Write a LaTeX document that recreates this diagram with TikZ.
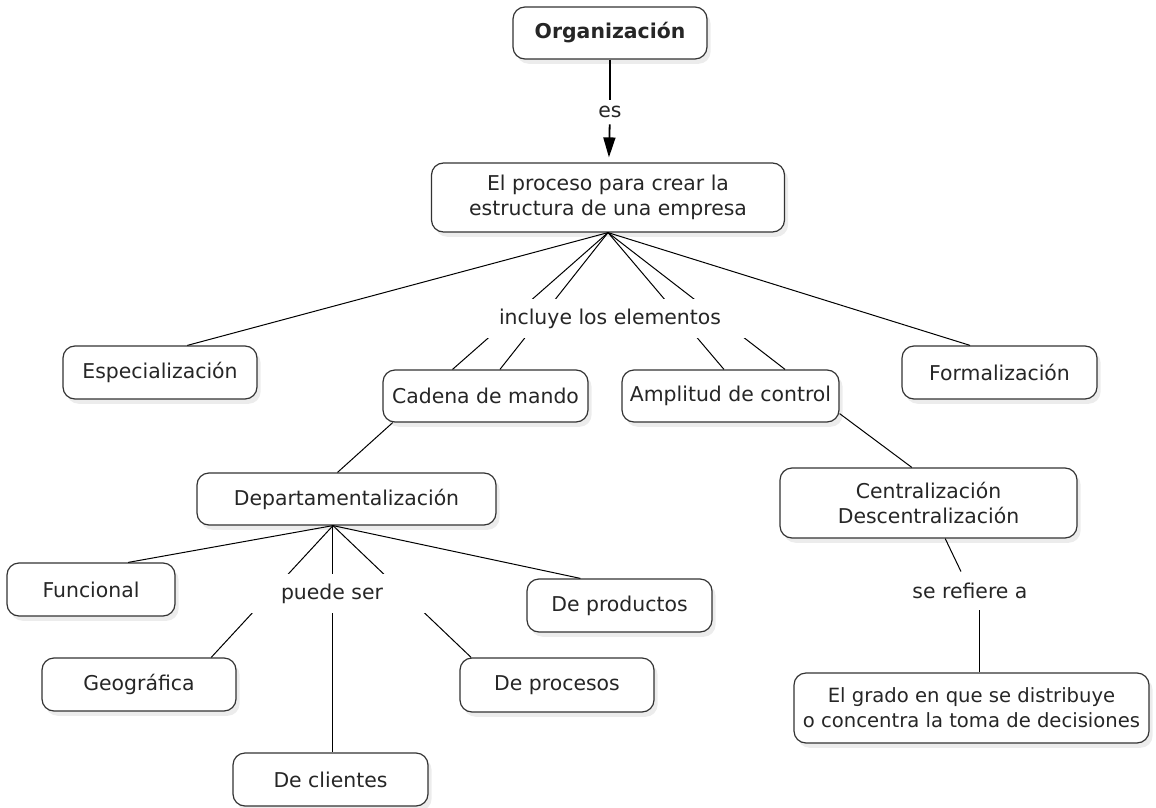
\documentclass[tikz,border=0pt]{standalone}
\usepackage{fontspec}
\setmainfont{DejaVu Sans}
\usetikzlibrary{arrows.meta,calc,shadows}
\colorlet{boxedge}{black!80}
\colorlet{boxtext}{black!85}

\begin{document}
\begin{tikzpicture}[x=0.5pt, y=-0.5pt,
    box/.style={draw=boxedge, line width=0.6pt, rounded corners=6pt, fill=white,
                align=center, text=boxtext, inner sep=0pt,
                font=\fontsize{10.2}{12.5}\selectfont,
                drop shadow={shadow xshift=1.8pt, shadow yshift=-2.4pt, opacity=0.15}},
    lbl/.style={fill=white, text=boxtext, inner sep=0pt,
                font=\fontsize{10.2}{12.5}\selectfont},
    link/.style={line width=0.5pt},
    arr/.style={-{Triangle[length=10pt,width=6pt]}, line width=0.9pt, shorten >=2.5pt}
  ]
  \useasboundingbox (0,0) rectangle (1156,808);

  % concepts
  \node[box, minimum width=97pt, minimum height=26pt] (org) at (610,33)
    {\textbf{Organización}};
  \node[box, minimum width=176.5pt, minimum height=34.5pt] (proc) at (608,197.5)
    {El proceso para crear la\\estructura de una empresa};
  \node[box, minimum width=97pt, minimum height=26.5pt] (esp) at (160,372.5)
    {Especialización};
  \node[box, minimum width=102.5pt, minimum height=26pt] (cadena) at (485.5,396)
    {Cadena de mando};
  \node[box, minimum width=108.5pt, minimum height=26pt] (amp) at (730.5,396)
    {Amplitud de control};
  \node[box, minimum width=97.5pt, minimum height=26.5pt] (form) at (999.5,372.5)
    {Formalización};
  \node[box, minimum width=149.5pt, minimum height=26pt] (depto) at (346.5,499)
    {Departamentalización};
  \node[box, minimum width=148.5pt, minimum height=35pt] (central) at (928.5,503)
    {Centralización\\Descentralización};
  \node[box, minimum width=84pt, minimum height=26.5pt] (func) at (91,589.5)
    {Funcional};
  \node[box, minimum width=97pt, minimum height=26.5pt] (geo) at (139,684.5)
    {Geográfica};
  \node[box, minimum width=97.5pt, minimum height=26.5pt] (clientes) at (330.5,779.5)
    {De clientes};
  \node[box, minimum width=97pt, minimum height=27pt] (procesos) at (557,685)
    {De procesos};
  \node[box, minimum width=92.5pt, minimum height=26.5pt] (productos) at (619.5,605.5)
    {De productos};
  \node[box, minimum width=177.5pt, minimum height=35pt,
        font=\fontsize{9.8}{12.5}\selectfont] (grado) at (971.5,708)
    {El grado en que se distribuye\\o concentra la toma de decisiones};

  % Organizacion -> proceso
  \node[lbl, minimum height=12pt] (es) at (610,112) {es};
  \draw[link, line width=0.9pt] (org) -- (es);
  \draw[arr] (es) -- (proc);

  % proceso -> elementos
  \draw[link] (proc.south) -- ($(esp.north west)!0.64!(esp.north east)$);
  \draw[link] (proc.south) -- ($(cadena.north west)!0.34!(cadena.north east)$);
  \draw[link] (proc.south) -- ($(cadena.north west)!0.57!(cadena.north east)$);
  \draw[link] (proc.south) -- ($(amp.north west)!0.47!(amp.north east)$);
  \draw[link] (proc.south) -- ($(amp.north west)!0.75!(amp.north east)$);
  \draw[link] (proc.south) -- ($(form.north west)!0.35!(form.north east)$);
  \node[lbl, minimum width=140pt, minimum height=19.5pt] (incluye) at (610,318.5)
    {incluye los elementos};

  \draw[link] ($(cadena.south west)!0.05!(cadena.south east)$)
    -- ($(depto.north west)!0.47!(depto.north east)$);
  \draw[link] ($(amp.south east)+(0,4.5pt)$)
    -- ($(central.north west)!0.444!(central.north east)$);

  % departamentalizacion -> tipos
  \coordinate (dfan) at ($(depto.south west)!0.455!(depto.south east)$);
  \draw[link] (dfan) -- ($(func.north west)!0.72!(func.north east)$);
  \draw[link] (dfan) -- ($(geo.north west)!0.87!(geo.north east)$);
  \draw[link] (dfan) -- (dfan |- clientes.north);
  \draw[link] (dfan) -- ($(procesos.north west)!0.06!(procesos.north east)$);
  \draw[link] (dfan) -- ($(productos.north west)!0.29!(productos.north east)$);
  \node[lbl, minimum width=100pt, minimum height=19.5pt] (puede) at (332,593.5)
    {puede ser};

  % centralizacion -> grado
  \node[lbl, minimum height=19pt] (refiere) at (970,591) {se refiere a};
  \draw[link] ($(central.south west)!0.556!(central.south east)$)
    -- ($(refiere.north)+(-4.5pt,0)$);
  \coordinate (r1) at ($(refiere.south)+(4.5pt,0)$);
  \draw[link] (r1) -- (r1 |- grado.north);
\end{tikzpicture}
\end{document}
